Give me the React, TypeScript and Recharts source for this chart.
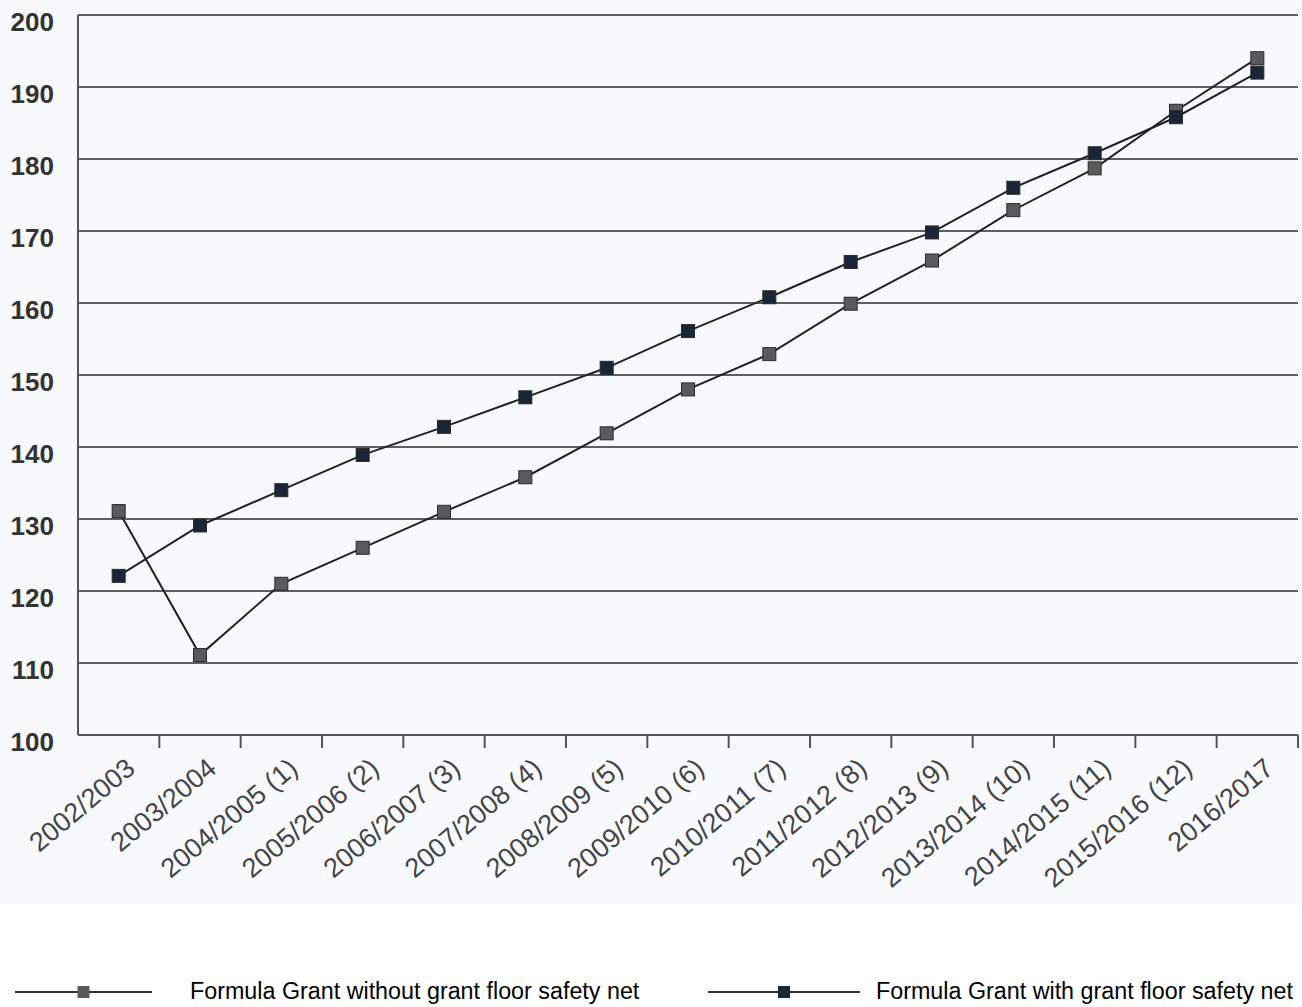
import { CartesianGrid, Line, LineChart, XAxis, YAxis } from 'recharts';

const periods = [
  '2002/2003',
  '2003/2004',
  '2004/2005 (1)',
  '2005/2006 (2)',
  '2006/2007 (3)',
  '2007/2008 (4)',
  '2008/2009 (5)',
  '2009/2010 (6)',
  '2010/2011 (7)',
  '2011/2012 (8)',
  '2012/2013 (9)',
  '2013/2014 (10)',
  '2014/2015 (11)',
  '2015/2016 (12)',
  '2016/2017',
];

const withoutFloor = [131.1, 111.1, 121, 126, 131, 135.8, 141.9, 148, 152.9, 159.9, 165.9, 172.9, 178.7, 186.7, 194];
const withFloor = [122.1, 129.1, 134, 138.9, 142.8, 146.9, 151, 156.1, 160.8, 165.7, 169.8, 176, 180.8, 185.8, 192];

const yTicks = [100, 110, 120, 130, 140, 150, 160, 170, 180, 190, 200];

const SERIES_WITHOUT = 'Formula Grant without grant floor safety net';
const SERIES_WITH = 'Formula Grant with grant floor safety net';

const rows = periods.map((period, i) => ({
  period,
  withoutFloor: withoutFloor[i],
  withFloor: withFloor[i],
}));

const FONT = '"Liberation Sans", Arial, sans-serif';
const CHART_W = 1302;
const CHART_H = 935;
const Y_AXIS_W = 78;
const RIGHT_PAD = 4;
// half a category slot; tick marks sit on the slot boundaries
const HALF_STEP = (CHART_W - Y_AXIS_W - RIGHT_PAD) / periods.length / 2;

const GRAY_FILL = '#5a5a5c';
const NAVY_FILL = '#1b2538';

function squareDot(fill: string) {
  return (props: any) => {
    const { cx, cy, index } = props;
    if (cx == null || cy == null) return <g key={`d-${index}`} />;
    return (
      <rect
        key={`d-${index}`}
        x={cx - 6.5}
        y={cy - 6.5}
        width={13}
        height={13}
        fill={fill}
        stroke="#2a2a2a"
        strokeWidth={1}
      />
    );
  };
}

function PeriodTick({ x, y, payload }: any) {
  return (
    <g>
      <line x1={x + HALF_STEP} x2={x + HALF_STEP} y1={y} y2={y + 13} stroke="#555" strokeWidth={2} />
      <text
        transform={`translate(${x + 18},${y + 36}) rotate(-40)`}
        textAnchor="end"
        fill="#444"
        fontSize={27}
        fontFamily={FONT}
      >
        {payload.value}
      </text>
    </g>
  );
}

function ValueTick({ x, y, payload }: any) {
  return (
    <text
      x={x}
      y={y + 7}
      textAnchor="end"
      dominantBaseline="central"
      fill="#333"
      fontSize={26}
      fontWeight="bold"
      fontFamily={FONT}
    >
      {payload.value}
    </text>
  );
}

function LegendItem({ left, lineWidth, gap, fill, label }: { left: number; lineWidth: number; gap: number; fill: string; label: string }) {
  return (
    <div style={{ position: 'absolute', left, top: 978, display: 'flex', alignItems: 'center' }}>
      <svg width={lineWidth} height={20} style={{ display: 'block' }}>
        <line x1={0} x2={lineWidth} y1={10} y2={10} stroke="#333" strokeWidth={2} />
        <rect x={lineWidth / 2 - 6} y={4} width={12} height={12} fill={fill} />
      </svg>
      <span style={{ marginLeft: gap, fontSize: 23.3, fontFamily: FONT, color: '#000', whiteSpace: 'nowrap' }}>{label}</span>
    </div>
  );
}

export default function App() {
  return (
    <div style={{ position: 'absolute', left: 0, top: 0, width: CHART_W, height: 1007, background: '#fff', overflow: 'hidden' }}>
      <div style={{ position: 'absolute', left: 0, top: 0, width: CHART_W, height: 905, background: '#f7f9fc' }} />
      <div style={{ position: 'absolute', left: 0, top: 0 }}>
        <LineChart
          width={CHART_W}
          height={CHART_H}
          data={rows}
          margin={{ top: 15, right: RIGHT_PAD, bottom: 0, left: 0 }}
        >
          <CartesianGrid vertical={false} stroke="#5f5f5f" strokeWidth={1.8} />
          <XAxis
            dataKey="period"
            interval={0}
            height={200}
            padding={{ left: HALF_STEP, right: HALF_STEP }}
            tickSize={0}
            tickMargin={0}
            tickLine={false}
            axisLine={{ stroke: '#555', strokeWidth: 2 }}
            tick={<PeriodTick />}
          />
          <YAxis
            domain={[100, 200]}
            ticks={yTicks}
            interval={0}
            width={Y_AXIS_W}
            tickSize={0}
            tickMargin={24}
            tickLine={false}
            axisLine={{ stroke: '#555', strokeWidth: 2 }}
            tick={<ValueTick />}
          />
          <Line
            type="linear"
            dataKey="withoutFloor"
            name={SERIES_WITHOUT}
            stroke="#222"
            strokeWidth={2}
            dot={squareDot(GRAY_FILL)}
            activeDot={false}
            isAnimationActive={false}
          />
          <Line
            type="linear"
            dataKey="withFloor"
            name={SERIES_WITH}
            stroke="#222"
            strokeWidth={2}
            dot={squareDot(NAVY_FILL)}
            activeDot={false}
            isAnimationActive={false}
          />
        </LineChart>
      </div>
      <LegendItem left={15} lineWidth={137} gap={38} fill={GRAY_FILL} label={SERIES_WITHOUT} />
      <LegendItem left={708} lineWidth={152} gap={16} fill={NAVY_FILL} label={SERIES_WITH} />
    </div>
  );
}
